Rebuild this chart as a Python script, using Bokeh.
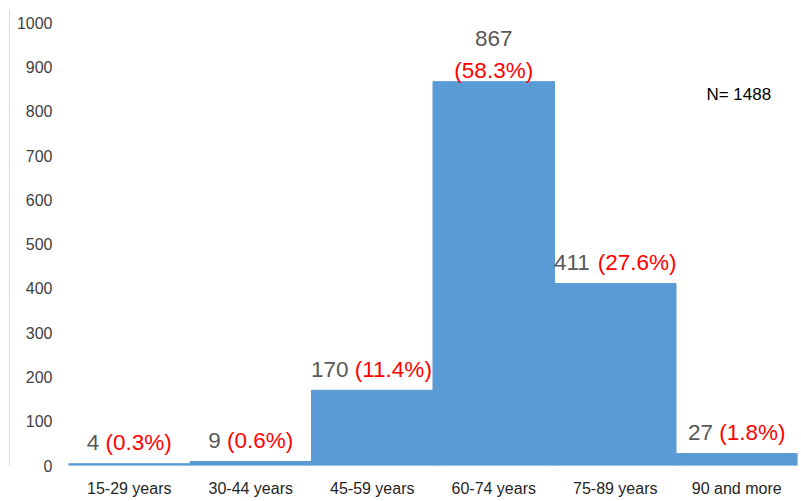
from bokeh.plotting import figure
from bokeh.models import FactorRange, Range1d, LinearAxis, FixedTicker, Label, ColumnDataSource
from bokeh.core.properties import value
from bokeh.embed import file_html
from bokeh.resources import INLINE

categories = ["15-29 years", "30-44 years", "45-59 years", "60-74 years", "75-89 years", "90 and more"]
counts = [4, 9, 170, 867, 411, 27]
percents = ["0.3", "0.6", "11.4", "58.3", "27.6", "1.8"]
y_ticks = [0, 100, 200, 300, 400, 500, 600, 700, 800, 900, 1000]
total_n = 1488

FONT = "Liberation Sans"
LBL_SIZE = 22.5
# Arial/Liberation Sans advance widths (em)
W = {" ": 0.278, "(": 0.333, ")": 0.333, "%": 0.889, ".": 0.278}


def tw(s, size):
    return sum(W.get(c, 0.556) for c in s) * size


p = figure(width=801, height=501, x_range=FactorRange(*categories), y_range=Range1d(0, 1030),
           output_backend="svg", toolbar_location=None,
           min_border_left=68, min_border_right=4, min_border_top=9, min_border_bottom=36)
p.outline_line_color = None
p.xgrid.visible = False
p.ygrid.visible = False
p.background_fill_color = "white"

p.vbar(x=categories, top=counts, width=1.0, fill_color="#5B9BD5", line_color="#5B9BD5", line_width=1)

# labels
imax = counts.index(max(counts))
val_txt, pct_txt = [], []
vx, vy, px, py = [], [], [], []
for i, (c, pc) in enumerate(zip(counts, percents)):
    v = str(c)
    pt = f"({pc}%)"
    val_txt.append(v)
    pct_txt.append(pt)
    if i == imax:
        vx.append(-tw(v, LBL_SIZE) / 2)
        vy.append(-43)
        px.append(-tw(pt, LBL_SIZE) / 2)
        py.append(-11)
    else:
        total = tw(v + " ", LBL_SIZE) + tw(pt, LBL_SIZE)
        vx.append(-total / 2)
        vy.append(-21)
        px.append(-total / 2 + tw(v + " ", LBL_SIZE))
        py.append(-21)

src = ColumnDataSource(dict(x=categories, y=counts, vt=val_txt, pt=pct_txt, vx=vx, vy=vy, px=px, py=py))
p.text(x="x", y="y", text="vt", x_offset="vx", y_offset="vy", source=src,
       text_align="left", text_baseline="alphabetic", text_color="#595959",
       text_font=value(FONT), text_font_size=value(f"{LBL_SIZE}px"))
p.text(x="x", y="y", text="pt", x_offset="px", y_offset="py", source=src,
       text_align="left", text_baseline="alphabetic", text_color="#FF0000",
       text_font=value(FONT), text_font_size=value(f"{LBL_SIZE}px"))

p.add_layout(Label(x=5.25, y=838, text=f"N= {total_n}", text_font=FONT, text_font_size="17px",
                   text_color="black", text_align="left", text_baseline="alphabetic"))

# y axis
ya = p.yaxis[0]
ya.ticker = FixedTicker(ticks=y_ticks)
ya.axis_line_color = None
ya.major_tick_line_color = None
ya.minor_tick_line_color = None
ya.major_tick_out = 0
ya.major_tick_in = 0
ya.minor_tick_out = 0
ya.major_label_standoff = 16
ya.major_label_text_font = FONT
ya.major_label_text_font_size = "16px"
ya.major_label_text_color = "#404040"
ya.axis_label = " "
ya.axis_label_text_font_size = "1px"
ya.axis_label_standoff = 0

outer = LinearAxis(ticker=FixedTicker(ticks=[]), axis_line_color="#d9d9d9", axis_line_width=1,
                   major_tick_out=0, major_tick_in=0, minor_tick_out=0, minor_tick_in=0,
                   major_label_text_font_size="0px", major_label_standoff=0)
p.add_layout(outer, "left")

# x axis
xa = p.xaxis[0]
xa.axis_line_color = None
xa.major_tick_line_color = None
xa.major_tick_out = 0
xa.major_tick_in = 0
xa.major_label_standoff = 14
xa.major_label_text_font = FONT
xa.major_label_text_font_size = "16px"
xa.major_label_text_color = "#262626"

open("out.html", "w").write(file_html(p, INLINE))
